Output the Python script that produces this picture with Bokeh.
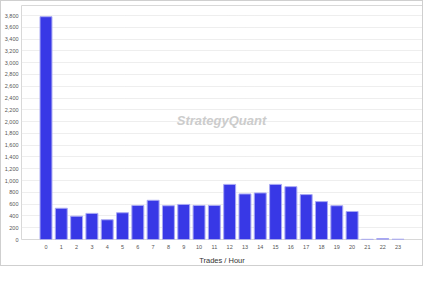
from bokeh.plotting import figure
from bokeh.models import Range1d, FixedTicker, NumeralTickFormatter, Label, ColumnDataSource
from bokeh.embed import file_html
from bokeh.resources import INLINE

hours = list(range(24))
trades = [3780, 530, 395, 443, 335, 454, 578, 665, 573, 595, 578, 578,
          935, 773, 790, 935, 897, 762, 643, 573, 475, 3, 15, 5]
y_ticks = list(range(0, 3801, 200))
x_label = "Trades / Hour"

src = ColumnDataSource(dict(h=hours, t=trades))

p = figure(width=423, height=266, output_backend="svg", toolbar_location=None,
           x_range=Range1d(-1.6, 24.6), y_range=Range1d(0, 3970),
           min_border_left=20, min_border_right=2, min_border_top=4, min_border_bottom=2)
p.styles = {"border": "1px solid #cfcfcf"}
p.background_fill_color = "white"
p.border_fill_color = "white"
p.outline_line_color = "#d8d8d8"

p.vbar(x="h", top="t", width=0.78, source=src, fill_color="#3838e6",
       line_color="#a8a8f4", line_width=1)

p.xaxis.ticker = FixedTicker(ticks=hours)
p.yaxis.ticker = FixedTicker(ticks=y_ticks)
p.yaxis.formatter = NumeralTickFormatter(format="0,0")
for ax in (p.xaxis[0], p.yaxis[0]):
    ax.axis_line_color = None
    ax.major_tick_line_color = None
    ax.minor_tick_line_color = None
    ax.major_tick_in = 0
    ax.major_tick_out = 0
    ax.minor_tick_in = 0
    ax.minor_tick_out = 0
    ax.major_label_text_font = "Liberation Sans"
    ax.major_label_text_font_size = "5.5px"
    ax.major_label_text_color = "#555555"
p.yaxis.major_label_standoff = 3
p.xaxis.major_label_standoff = 5
p.xaxis.axis_label = x_label
p.xaxis.axis_label_text_font = "Liberation Sans"
p.xaxis.axis_label_text_font_style = "normal"
p.xaxis.axis_label_text_font_size = "7.5px"
p.xaxis.axis_label_text_color = "#333333"
p.xaxis.axis_label_standoff = 4

p.xgrid.grid_line_color = None
p.ygrid.grid_line_color = "#dddddd"
p.ygrid.grid_line_dash = "1 1"
p.ygrid.grid_line_width = 1

wm = Label(x=200, y=119, x_units="screen", y_units="screen", text="StrategyQuant",
           text_font="Liberation Sans", text_font_style="bold italic",
           text_font_size="13px", text_color="#cccccc", text_align="center",
           text_baseline="middle")
p.add_layout(wm)

open("out.html", "w").write(file_html(p, INLINE))
